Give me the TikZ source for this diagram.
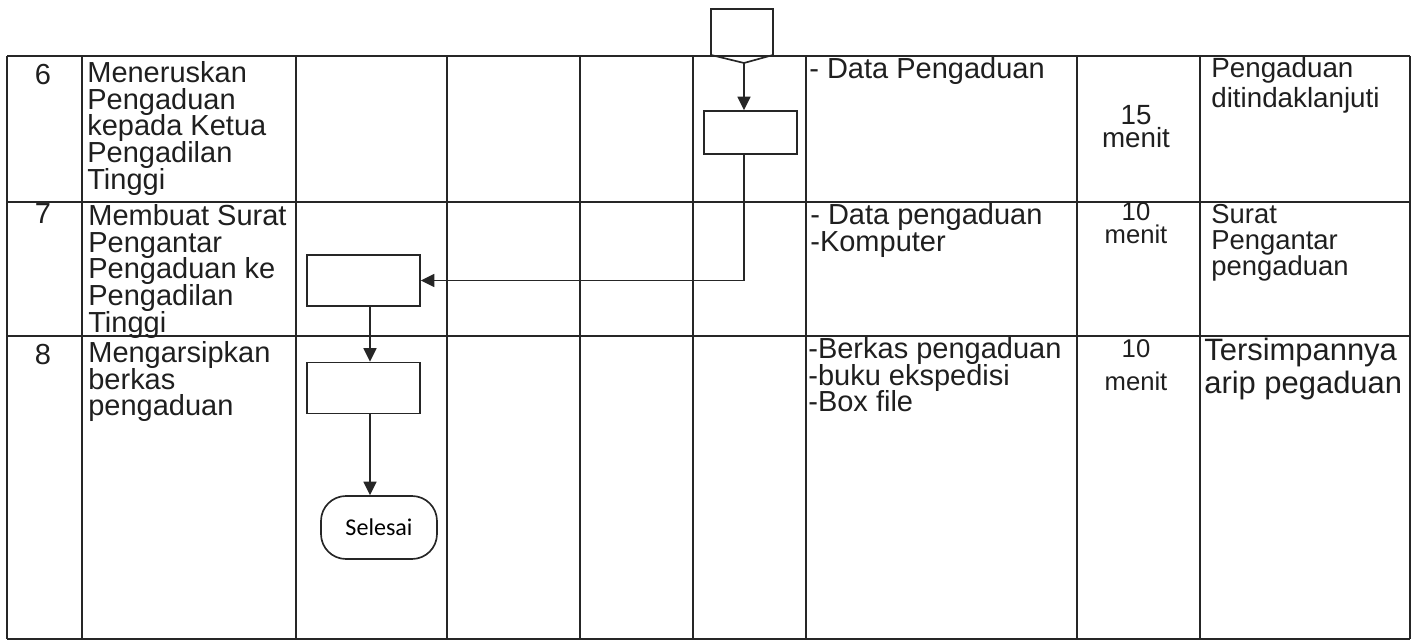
\documentclass[tikz,border=0pt]{standalone}
\usepackage{fontspec}
\setmainfont{Liberation Sans}
\newfontfamily\calibri{Carlito}
\usetikzlibrary{arrows.meta,positioning,calc}

% fixed leading, no extra \lineskip between lines
\newcommand\cellfont[2]{\fontsize{#1}{#2}\selectfont\lineskiplimit-20pt\relax}

\tikzset{
    rule/.style={draw=black!85, line width=0.95pt},
    proc/.style={rule, minimum width=22.6mm, minimum height=10.2mm, inner sep=0pt},
    term/.style={rule, rounded corners=5mm, minimum width=23.2mm, minimum height=12.6mm,
        inner sep=0pt, font={\calibri\fontsize{13.7}{16}\selectfont}},
    flow/.style={rule, -{Triangle[length=2.7mm,width=2.6mm]}},
    cell/.style={anchor=north west, inner sep=0pt, align=left, text=black!88,
        font={\cellfont{16.5}{15.2}}},
    num/.style={cell, anchor=north, align=center},
    dur/.style={cell, anchor=north, align=center, font={\cellfont{14.6}{13.2}}}
}

\begin{document}
\begin{tikzpicture}[x=0.2mm, y=-0.2mm]
    \useasboundingbox (0,0) rectangle (1416,642);

    % table grid
    \foreach \y in {56,202,336,639}
        \draw[rule] (7,\y) -- (1410,\y);
    \foreach \x in {7,82,296,447,580,693,806,1077,1200,1410}
        \draw[rule] (\x,56) -- (\x,639);

    % off-page connector
    \draw[rule] (711,9) -- (773,9) -- (773,55) -- (744,63) -- (711,55) -- cycle;
    \coordinate (conn) at (744,63);
    \coordinate (lane) at (370,0);

    % process boxes
    \node[proc, minimum width=18.6mm, minimum height=8.6mm] (box6) at (750.5,132.5) {};
    \node[proc] (box7) at (363.5,280.5) {};
    \node[proc] (box8) at (363.5,388) {};
    \node[term] (done) at (379,527.5) {Selesai};

    % flow
    \draw[flow] (conn) -- (conn |- box6.north);
    \draw[flow] (conn |- box6.south) -- (conn |- box7.east) -- (box7.east);
    \draw[flow] (box7.south -| lane) -- (box8.north -| lane);
    \draw[flow] (box8.south -| lane) -- (done.north -| lane);

    % row 6
    \node[num] (num6) at (43,64) {6};
    \node[cell] (act6) at (87,61) {Meneruskan\\Pengaduan\\kepada Ketua\\Pengadilan\\Tinggi};
    \node[cell] (res6) at (809,57.5) {- Data Pengaduan};
    \node[dur, font={\cellfont{15.8}{13.2}}] (time6) at (1136,105) {15\\menit};
    \node[cell, font={\cellfont{15.8}{16.6}}] (out6) at (1211,57.5) {Pengaduan\\ditindaklanjuti};

    % row 7
    \node[num] (num7) at (43,203) {7};
    \node[cell] (act7) at (88,204) {Membuat Surat\\Pengantar\\Pengaduan ke\\Pengadilan\\Tinggi};
    \node[cell] (res7) at (810,203) {- Data pengaduan\\-Komputer};
    \node[dur] (time7) at (1136,202.5) {10\\menit};
    \node[cell, font={\cellfont{15.6}{14.8}}] (out7) at (1211,204) {Surat\\Pengantar\\pengaduan};

    % row 8
    \node[num] (num8) at (43,344) {8};
    \node[cell] (act8) at (88,341) {Mengarsipkan\\berkas\\pengaduan};
    \node[cell] (res8) at (808,337) {-Berkas pengaduan\\-buku ekspedisi\\-Box file};
    \node[dur, font={\cellfont{14.6}{19}}] (time8) at (1136,339) {10\\menit};
    \node[cell, font={\cellfont{17.6}{18.7}}] (out8) at (1204,338) {Tersimpannya\\arip pegaduan};
\end{tikzpicture}
\end{document}
